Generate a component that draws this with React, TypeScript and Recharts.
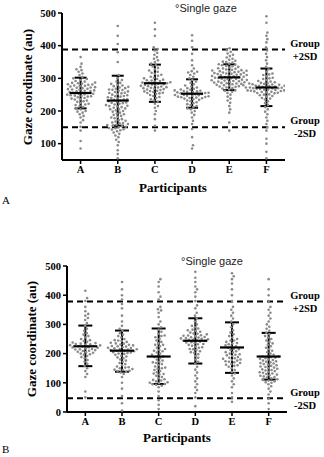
import { ScatterChart, Scatter, XAxis, YAxis, ReferenceLine, ErrorBar } from 'recharts';

const participants = ['A', 'B', 'C', 'D', 'E', 'F'];

// panel A - single gaze coordinates per participant
const topA = [85, 108, 140, 152, 165, 172, 180, 185, 190, 195, 198, 200, 205, 208, 212, 215, 218, 220, 222, 225, 228, 230, 232, 235, 236, 238, 240, 242, 244, 245, 246, 247, 248, 250, 251, 252, 253, 255, 256, 257, 258, 260, 261, 262, 263, 265, 266, 267, 268, 270, 271, 272, 273, 275, 276, 277, 278, 280, 281, 282, 284, 285, 286, 287, 290, 292, 295, 298, 300, 304, 310, 315, 320, 325, 328, 335, 345, 365];
const topB = [55, 68, 80, 95, 105, 112, 120, 125, 130, 134, 138, 141, 143, 144, 147, 148, 150, 152, 153, 155, 157, 158, 160, 162, 163, 165, 168, 170, 172, 175, 178, 180, 182, 185, 188, 190, 192, 195, 198, 200, 202, 205, 205, 208, 210, 212, 214, 215, 216, 218, 220, 222, 224, 225, 226, 228, 230, 232, 234, 235, 236, 238, 240, 242, 244, 245, 246, 248, 250, 252, 254, 255, 256, 258, 260, 262, 264, 265, 266, 268, 270, 272, 274, 276, 278, 280, 283, 286, 290, 295, 300, 310, 350, 380, 405, 430, 460];
const topC = [140, 155, 175, 190, 200, 210, 215, 222, 228, 232, 236, 240, 243, 246, 249, 252, 254, 255, 256, 258, 260, 261, 262, 264, 266, 267, 268, 270, 271, 272, 273, 275, 276, 277, 278, 280, 281, 282, 283, 285, 286, 287, 288, 290, 292, 293, 294, 296, 298, 300, 302, 305, 308, 311, 314, 317, 320, 324, 328, 332, 336, 340, 345, 350, 355, 360, 365, 372, 378, 385, 390, 395, 430, 450, 470];
const topD = [85, 95, 120, 145, 160, 170, 180, 188, 195, 200, 205, 208, 212, 215, 218, 221, 224, 227, 230, 232, 234, 236, 238, 239, 240, 241, 242, 243, 244, 245, 246, 247, 248, 249, 250, 251, 252, 253, 254, 255, 256, 257, 258, 259, 260, 261, 262, 263, 265, 266, 268, 270, 272, 275, 278, 282, 286, 290, 295, 300, 305, 310, 315, 318, 320, 322, 330, 340, 355, 375, 395, 415, 432];
const topE = [140, 165, 195, 205, 215, 225, 232, 238, 244, 250, 255, 259, 262, 263, 266, 269, 270, 272, 274, 275, 276, 278, 279, 280, 282, 283, 284, 285, 286, 287, 288, 289, 290, 291, 292, 293, 294, 295, 296, 297, 298, 299, 300, 301, 302, 303, 304, 305, 306, 307, 308, 309, 310, 311, 312, 313, 314, 315, 316, 317, 318, 319, 320, 321, 322, 323, 324, 325, 326, 327, 329, 330, 331, 333, 335, 337, 338, 340, 342, 343, 345, 348, 350, 351, 354, 357, 360, 364, 368, 372, 376, 381, 386, 392];
const topF = [55, 75, 100, 115, 140, 150, 160, 170, 180, 190, 198, 205, 212, 218, 224, 230, 235, 238, 240, 244, 246, 248, 250, 251, 254, 255, 256, 257, 258, 259, 260, 261, 262, 263, 263, 264, 265, 266, 267, 267, 268, 269, 270, 270, 271, 272, 272, 273, 274, 274, 275, 276, 277, 277, 278, 279, 280, 281, 282, 283, 284, 285, 286, 288, 290, 292, 295, 298, 300, 302, 306, 310, 312, 315, 320, 328, 335, 345, 355, 365, 375, 385, 395, 410, 420, 430, 440, 470, 490];
const topMean = [255, 232, 285, 253, 303, 272];
const topSdHigh = [302, 308, 342, 297, 343, 330];
const topSdLow = [208, 155, 228, 210, 264, 215];
const topGroupHigh = 388;
const topGroupLow = 150;

// panel B
const botA = [50, 70, 120, 130, 140, 150, 158, 165, 172, 178, 184, 188, 192, 196, 198, 200, 203, 205, 206, 209, 210, 212, 214, 215, 216, 218, 220, 221, 222, 224, 225, 226, 228, 229, 230, 232, 233, 234, 236, 238, 240, 243, 246, 250, 255, 260, 265, 270, 278, 285, 295, 305, 315, 322, 330, 336, 345, 360, 380, 390, 415];
const botB = [5, 30, 55, 80, 100, 120, 130, 135, 138, 140, 141, 144, 145, 147, 150, 152, 153, 156, 160, 164, 168, 172, 176, 180, 184, 187, 190, 193, 196, 199, 200, 202, 204, 205, 206, 208, 210, 211, 212, 214, 215, 216, 218, 219, 220, 222, 224, 225, 226, 228, 230, 231, 234, 235, 237, 240, 243, 245, 246, 250, 255, 260, 265, 270, 278, 285, 295, 310, 330, 355, 370, 385, 400, 420, 445];
const botC = [10, 25, 40, 55, 70, 85, 90, 93, 95, 96, 99, 100, 102, 105, 108, 110, 112, 116, 120, 124, 128, 130, 132, 136, 140, 144, 148, 150, 152, 156, 160, 164, 168, 170, 172, 176, 180, 184, 188, 190, 192, 196, 200, 204, 208, 210, 212, 216, 220, 225, 230, 230, 235, 240, 245, 250, 256, 260, 262, 268, 275, 282, 290, 300, 310, 325, 340, 348, 352, 360, 385, 395, 410, 430, 445, 455];
const botD = [20, 50, 65, 75, 85, 95, 105, 115, 125, 135, 145, 155, 165, 172, 180, 186, 192, 198, 203, 205, 208, 212, 215, 216, 220, 222, 224, 227, 230, 232, 233, 236, 238, 239, 241, 243, 244, 245, 247, 248, 249, 251, 252, 253, 255, 256, 257, 259, 261, 262, 263, 266, 268, 269, 272, 275, 278, 280, 282, 286, 290, 295, 300, 310, 320, 330, 340, 355, 365, 380, 395, 410, 420, 430, 445, 460, 480];
const botE = [35, 50, 65, 85, 95, 105, 115, 125, 132, 138, 144, 150, 155, 158, 160, 162, 164, 168, 170, 172, 174, 176, 178, 180, 182, 184, 186, 188, 192, 194, 196, 198, 200, 204, 205, 208, 212, 215, 216, 220, 224, 225, 228, 232, 235, 236, 240, 245, 245, 250, 255, 260, 266, 272, 280, 290, 300, 310, 320, 330, 340, 350, 360, 380, 400, 420, 440, 455, 465, 475];
const botF = [10, 30, 45, 60, 70, 80, 88, 95, 100, 102, 105, 108, 110, 112, 115, 118, 120, 122, 124, 126, 128, 130, 132, 134, 136, 138, 140, 142, 144, 146, 148, 150, 152, 154, 156, 158, 160, 162, 164, 166, 168, 170, 172, 174, 176, 178, 180, 182, 184, 186, 188, 190, 190, 192, 196, 200, 205, 210, 215, 220, 225, 230, 235, 240, 245, 250, 255, 260, 266, 272, 278, 285, 292, 300, 310, 320, 330, 340, 350, 360, 380, 400, 420, 455];
const botMean = [225, 210, 190, 244, 221, 190];
const botSdHigh = [296, 279, 286, 321, 307, 271];
const botSdLow = [157, 138, 96, 166, 134, 111];
const botGroupHigh = 378;
const botGroupLow = 47;

const serif = '"Liberation Serif", "DejaVu Serif", serif';
const sans = '"Liberation Sans", Arial, sans-serif';

// beeswarm: push each dot sideways (in pixels) until it clears its neighbours
function swarm(values: number[], idx: number, pxY: number, pxX: number, d: number) {
  const sorted = [...values].sort((a, b) => a - b);
  const placed: { x: number; y: number }[] = [];
  const out: { x: number; y: number }[] = [];
  for (const v of sorted) {
    const y = v * pxY;
    const near = placed.filter(p => Math.abs(p.y - y) < d);
    const cands = [0];
    for (const p of near) {
      const dx = Math.sqrt(d * d - (p.y - y) ** 2);
      cands.push(p.x + dx, p.x - dx);
    }
    cands.sort((a, b) => Math.abs(a) - Math.abs(b));
    let x = 0;
    for (const c of cands) {
      if (near.every(p => (p.x - c) ** 2 + (p.y - y) ** 2 >= d * d - 1e-6)) { x = c; break; }
    }
    placed.push({ x, y });
    out.push({ x: idx + x / pxX, y: v });
  }
  return out;
}

interface PanelProps {
  groups: number[][];
  mean: number[];
  hi: number[];
  lo: number[];
  groupHigh: number;
  groupLow: number;
  domain: [number, number];
  ticks: number[];
  top: number;
  height: number;
  margin: { top: number; right: number; bottom: number; left: number };
  meanHalf: number;
  capHalf: number;
}

function Panel({ groups, mean, hi, lo, groupHigh, groupLow, domain, ticks, top, height, margin, meanHalf, capHalf }: PanelProps) {
  const plotH = height - margin.top - margin.bottom - 20;
  const plotW = 324 - margin.left - margin.right - 40;
  const pxY = plotH / (domain[1] - domain[0]);
  const pxX = plotW / 6;
  const dots = groups.flatMap((g, i) => swarm(g, i, pxY, pxX, 3.4));
  const bars = mean.map((m, i) => ({ x: i, y: m, err: [m - lo[i], hi[i] - m] }));
  const tick = { fontFamily: serif, fontWeight: 700, fontSize: 10.5, fill: '#000' };

  return (
    <div style={{ position: 'absolute', left: 0, top }}>
      <ScatterChart width={324} height={height} margin={margin}>
        <XAxis type="number" dataKey="x" domain={[-0.5, 5.5]} ticks={[0, 1, 2, 3, 4, 5]}
          tickFormatter={(v: number) => participants[v]} height={20} tick={tick}
          axisLine={{ stroke: '#000', strokeWidth: 2 }} tickLine={{ stroke: '#000', strokeWidth: 1.5 }} tickSize={4}
          allowDataOverflow />
        <YAxis type="number" dataKey="y" domain={domain} ticks={ticks} width={40} tick={tick}
          axisLine={{ stroke: '#000', strokeWidth: 2 }} tickLine={{ stroke: '#000', strokeWidth: 1.5 }} tickSize={4}
          allowDataOverflow />
        <Scatter data={dots} isAnimationActive={false}
          shape={(p: any) => <circle cx={p.cx} cy={p.cy} r={1.3} fill="#8a8a8a" />} />
        <ReferenceLine y={groupHigh} stroke="#000" strokeWidth={2} strokeDasharray="6 4" />
        <ReferenceLine y={groupLow} stroke="#000" strokeWidth={2} strokeDasharray="6 4" />
        <Scatter data={bars} isAnimationActive={false}
          shape={(p: any) => <line x1={p.cx - meanHalf} x2={p.cx + meanHalf} y1={p.cy} y2={p.cy} stroke="#000" strokeWidth={2.2} />}>
          <ErrorBar dataKey="err" direction="y" width={capHalf} stroke="#000" strokeWidth={2} />
        </Scatter>
      </ScatterChart>
    </div>
  );
}

export default function App() {
  const lbl = { fontFamily: serif, fontWeight: 700, fill: '#000' };
  return (
    <div style={{ position: 'absolute', left: 0, top: 0, width: 324, height: 457, background: '#fff' }}>
      <Panel groups={[topA, topB, topC, topD, topE, topF]} mean={topMean} hi={topSdHigh} lo={topSdLow}
        groupHigh={topGroupHigh} groupLow={topGroupLow} domain={[50, 500]} ticks={[100, 200, 300, 400, 500]}
        top={0} height={190} margin={{ top: 13, right: 39, bottom: 10, left: 22 }} meanHalf={11} capHalf={6} />
      <Panel groups={[botA, botB, botC, botD, botE, botF]} mean={botMean} hi={botSdHigh} lo={botSdLow}
        groupHigh={botGroupHigh} groupLow={botGroupLow} domain={[0, 500]} ticks={[0, 100, 200, 300, 400, 500]}
        top={250} height={190} margin={{ top: 16, right: 37, bottom: 8, left: 27 }} meanHalf={12} capHalf={7} />
      <svg width={324} height={457} style={{ position: 'absolute', left: 0, top: 0, pointerEvents: 'none' }}>
        <text x={206} y={12} textAnchor="middle" fontFamily={sans} fontSize={11} fill="#222">°Single gaze</text>
        <text x={29} y={87} transform="rotate(-90 29 87)" textAnchor="middle" dominantBaseline="middle" fontSize={13} {...lbl}>Gaze coordinate (au)</text>
        <text x={305} y={47} textAnchor="middle" fontSize={10.5} {...lbl}>Group</text>
        <text x={305} y={60} textAnchor="middle" fontSize={10.5} {...lbl}>+2SD</text>
        <text x={305} y={124} textAnchor="middle" fontSize={10.5} {...lbl}>Group</text>
        <text x={305} y={137} textAnchor="middle" fontSize={10.5} {...lbl}>-2SD</text>
        <text x={173} y={192} textAnchor="middle" fontSize={13} {...lbl}>Participants</text>
        <text x={2} y={204} fontFamily={serif} fontSize={11} fill="#000">A</text>

        <text x={212} y={265} textAnchor="middle" fontFamily={sans} fontSize={11} fill="#222">°Single gaze</text>
        <text x={33} y={339} transform="rotate(-90 33 339)" textAnchor="middle" dominantBaseline="middle" fontSize={13} {...lbl}>Gaze coordinate (au)</text>
        <text x={305} y={299} textAnchor="middle" fontSize={10.5} {...lbl}>Group</text>
        <text x={305} y={312} textAnchor="middle" fontSize={10.5} {...lbl}>+2SD</text>
        <text x={305} y={396} textAnchor="middle" fontSize={10.5} {...lbl}>Group</text>
        <text x={305} y={409} textAnchor="middle" fontSize={10.5} {...lbl}>-2SD</text>
        <text x={177} y={442} textAnchor="middle" fontSize={13} {...lbl}>Participants</text>
        <text x={2} y={453} fontFamily={serif} fontSize={11} fill="#000">B</text>
      </svg>
    </div>
  );
}
